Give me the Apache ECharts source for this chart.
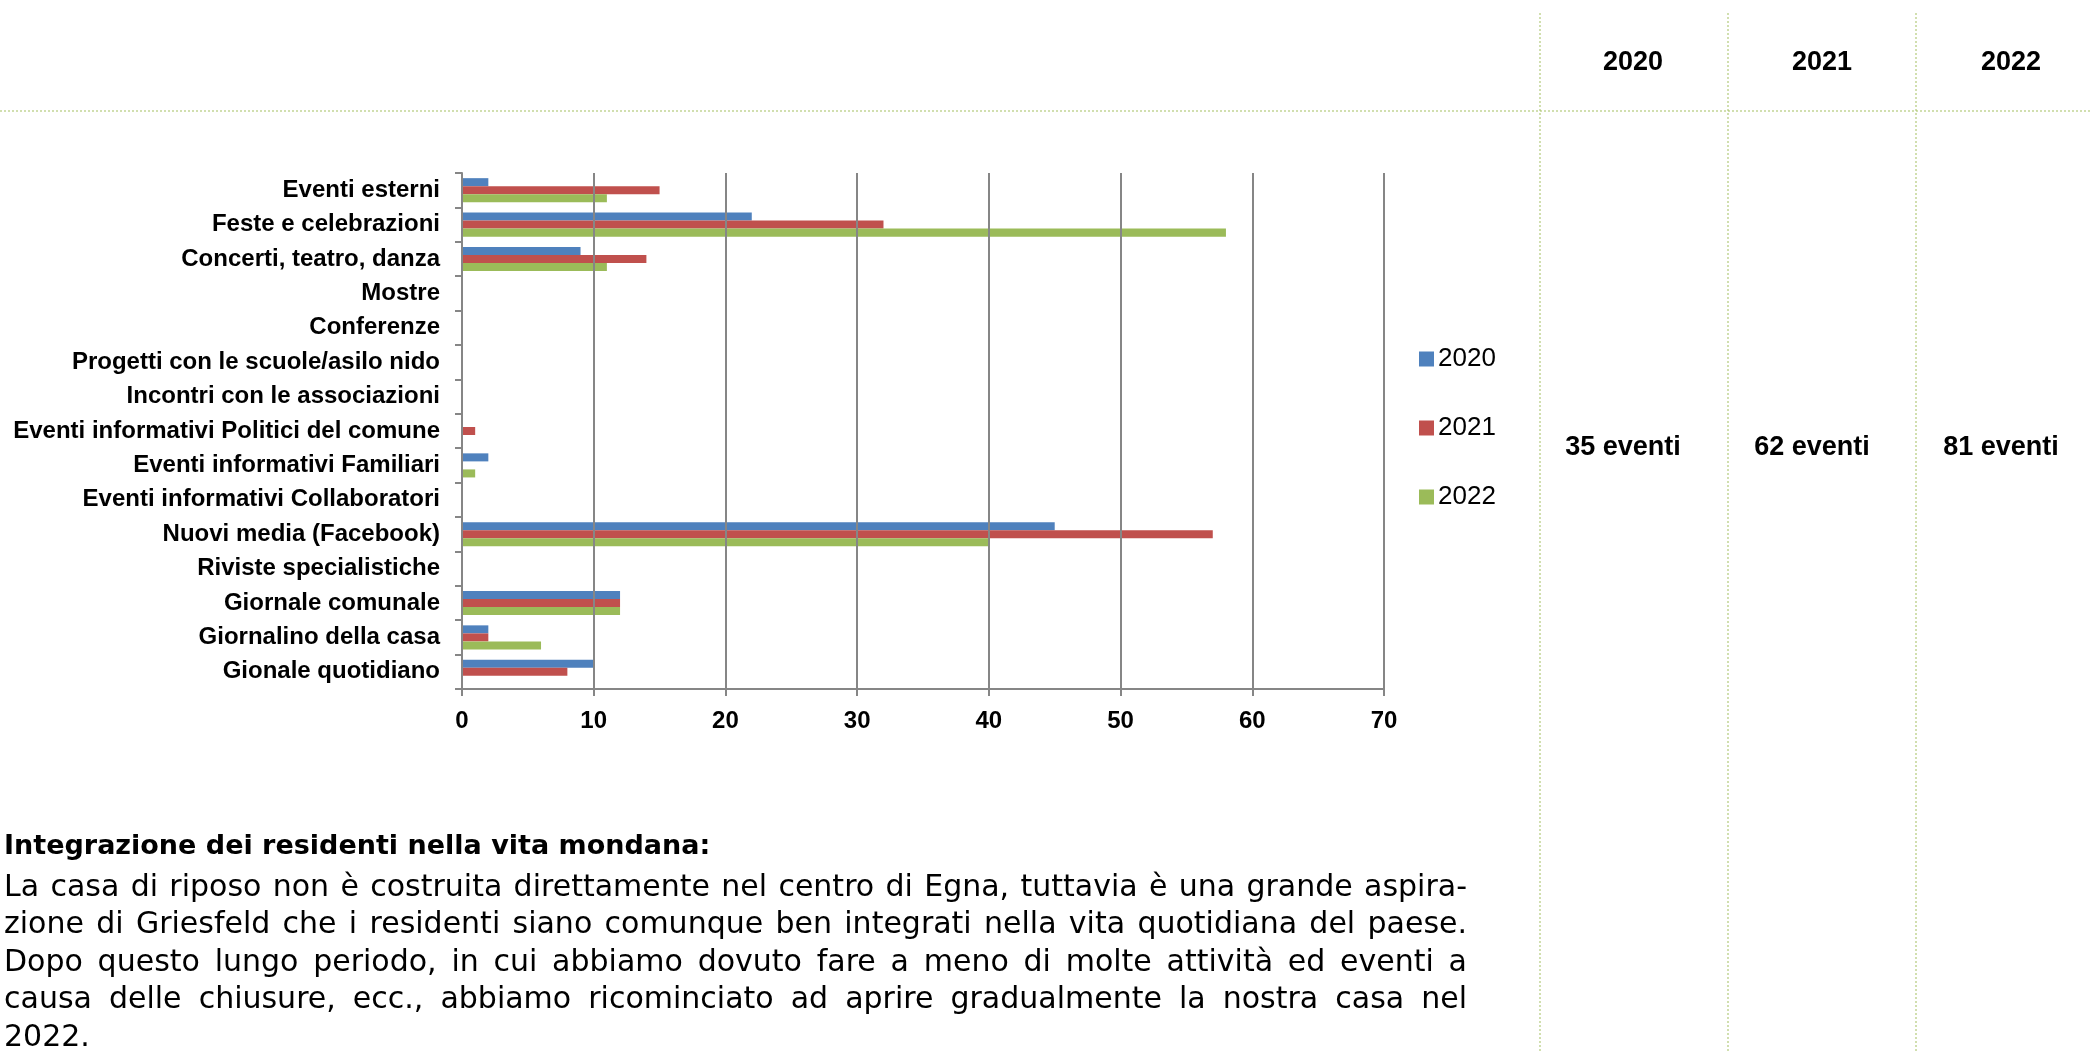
<!DOCTYPE html>
<html><head><meta charset="utf-8">
<script src="https://cdn.jsdelivr.net/npm/echarts@6/dist/echarts.min.js"></script>
<style>html,body{margin:0;padding:0;background:#fff;overflow:hidden;} #c{width:2090px;height:1052px;}</style>
</head><body><div id="c"></div>
<script>
const categories = ['Eventi esterni','Feste e celebrazioni','Concerti, teatro, danza','Mostre','Conferenze','Progetti con le scuole/asilo nido','Incontri con le associazioni','Eventi informativi Politici del comune','Eventi informativi Familiari','Eventi informativi Collaboratori','Nuovi media (Facebook)','Riviste specialistiche','Giornale comunale','Giornalino della casa','Gionale quotidiano'];
const values2020 = [2,22,9,0,0,0,0,0,2,0,45,0,12,2,10];
const values2021 = [15,32,14,0,0,0,0,1,0,0,57,0,12,2,8];
const values2022 = [11,58,11,0,0,0,0,0,1,0,40,0,12,6,0];
const seriesNames = ['2020','2021','2022'];
const seriesColors = ['#4f81bd','#c0504d','#9bbb59'];
const xMin = 0, xMax = 70, xInterval = 10;
const tableYears = ['2020','2021','2022'];
const tableTotals = ['35 eventi','62 eventi','81 eventi'];
const textTitle = 'Integrazione dei residenti nella vita mondana:';
const textLines = [
  'La casa di riposo non è costruita direttamente nel centro di Egna, tuttavia è una grande aspira-',
  'zione di Griesfeld che i residenti siano comunque ben integrati nella vita quotidiana del paese.',
  'Dopo questo lungo periodo, in cui abbiamo dovuto fare a meno di molte attività ed eventi a',
  'causa delle chiusure, ecc., abbiamo ricominciato ad aprire gradualmente la nostra casa nel',
  '2022.'
];
const justified = [true,true,true,true,false];

const FF = '"Liberation Sans", Arial, sans-serif';
const FB = '"DejaVu Sans", sans-serif';
const GRID_LINE = '#868686';
const TABLE_LINE = '#a3c060';

const chart = echarts.init(document.getElementById('c'));

const graphics = [];
graphics.push({type:'line', shape:{x1:0,y1:111,x2:2090,y2:111}, style:{stroke:TABLE_LINE,lineWidth:1,lineDash:[2,2]}, silent:true});
[1540,1728,1916].forEach(x=>{
  graphics.push({type:'line', shape:{x1:x,y1:13,x2:x,y2:1052}, style:{stroke:TABLE_LINE,lineWidth:1,lineDash:[2,2]}, silent:true});
});
const colX = [1633,1822,2011];
tableYears.forEach((t,i)=>{
  graphics.push({type:'text', x:colX[i], y:63, style:{text:t, font:'bold 27px '+FF, fill:'#000', textAlign:'center', textVerticalAlign:'middle'}});
});
tableTotals.forEach((t,i)=>{
  graphics.push({type:'text', x:colX[i]-10, y:448, style:{text:t, font:'bold 27px '+FF, fill:'#000', textAlign:'center', textVerticalAlign:'middle'}});
});
graphics.push({type:'text', x:4, y:847, style:{text:textTitle, font:'bold 27px '+FB, fill:'#000', textAlign:'left', textVerticalAlign:'middle'}});
const bodyFont = '30px ' + FB;
const ctx = document.createElement('canvas').getContext('2d');
ctx.font = bodyFont;
const lineY = [888,925,963,1000,1038];
const textLeft = 4, textWidth = 1463;
textLines.forEach((line,li)=>{
  if (!justified[li]) {
    graphics.push({type:'text', x:textLeft, y:lineY[li], style:{text:line, font:bodyFont, fill:'#000', textAlign:'left', textVerticalAlign:'middle'}});
    return;
  }
  const words = line.split(' ');
  const ws = words.map(w=>ctx.measureText(w).width);
  const total = ws.reduce((a,b)=>a+b,0);
  const gap = (textWidth-total)/(words.length-1);
  let x = textLeft;
  words.forEach((w,i)=>{
    graphics.push({type:'text', x:x, y:lineY[li], style:{text:w, font:bodyFont, fill:'#000', textAlign:'left', textVerticalAlign:'middle'}});
    x += ws[i] + gap;
  });
});

const valuesAll = [values2020, values2021, values2022];

chart.setOption({
  animation:false,
  backgroundColor:'#fff',
  grid:{left:462, right:706, top:173, bottom:363, containLabel:false},
  legend:{
    orient:'vertical', left:1414, top:341,
    itemWidth:15, itemHeight:15, itemGap:43,
    icon:'rect',
    data:seriesNames,
    textStyle:{fontFamily:FF, fontSize:26, color:'#000', padding:[0,0,0,-1]}
  },
  xAxis:{
    type:'value', min:xMin, max:xMax, interval:xInterval,
    z:3,
    axisLine:{show:true, lineStyle:{color:GRID_LINE, width:2}},
    axisTick:{show:true, length:7, lineStyle:{color:GRID_LINE, width:2}},
    axisLabel:{fontFamily:FF, fontSize:24, fontWeight:'bold', color:'#000', margin:20},
    splitLine:{show:true, lineStyle:{color:GRID_LINE, width:2}}
  },
  yAxis:{
    type:'category', inverse:true, data:categories,
    axisLine:{show:true, lineStyle:{color:GRID_LINE, width:2}},
    axisTick:{show:true, length:7, lineStyle:{color:GRID_LINE, width:2}},
    axisLabel:{fontFamily:FF, fontSize:24, fontWeight:'bold', color:'#000', margin:22},
    splitLine:{show:false}
  },
  series: seriesNames.map((n,i)=>({
    name:n, type:'bar', data:valuesAll[i],
    barGap:'0%', barCategoryGap:'30%',
    itemStyle:{color:seriesColors[i]}
  })),
  graphic:graphics
});
</script></body></html>
